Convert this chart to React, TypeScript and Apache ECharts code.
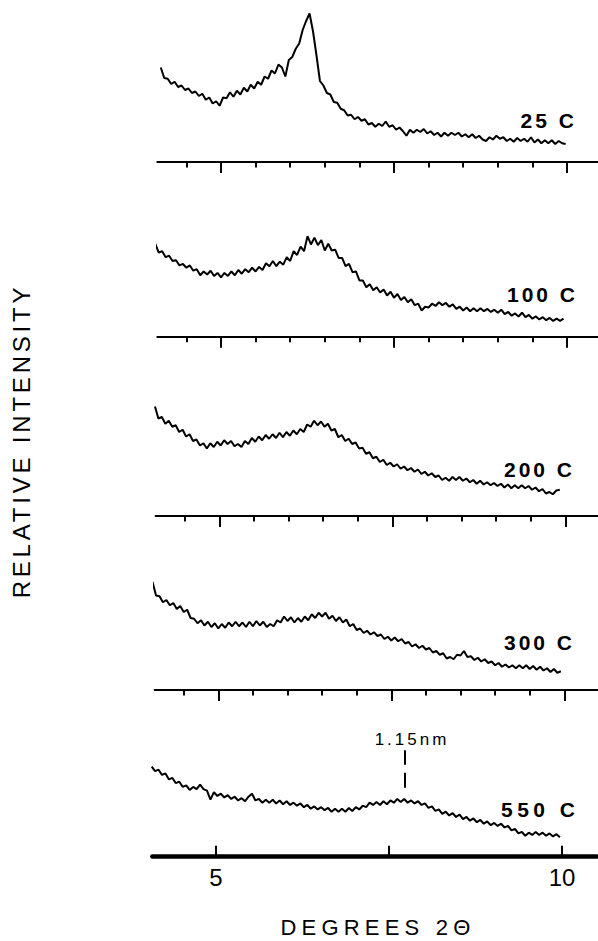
import React, { useEffect, useRef } from "react";
import * as echarts from "echarts";

// ---------- data ----------
const STEP = 0.05; // degrees 2θ between samples
const temperatures = ["25 C", "100 C", "200 C", "300 C", "550 C"];
const scanStarts = [4.13, 4.05, 4.07, 4.05, 4.07];

const i25 = [63, 56, 55.5, 52, 53.5, 50, 51, 48, 49, 46, 47, 44, 45.5, 41.5, 43, 39, 40.5, 37.5, 43, 42.5, 46.5, 43.5, 47.5, 45, 49.5, 47, 51.5, 49, 53.5, 51.5, 57, 55.5, 61, 59, 65, 63, 57, 68, 70, 75.5, 79, 88, 94, 99, 87, 71, 54, 51, 46, 45, 40, 39.5, 35.5, 34.5, 31, 31.5, 28.5, 30, 27.5, 28.5, 25, 26, 23.5, 25.5, 24, 27, 23.5, 24.5, 21.5, 23, 20.5, 17.5, 21.5, 19.5, 21.5, 20, 22, 19, 20.5, 18, 19.5, 17, 19.5, 17.5, 19.5, 18, 19.5, 17, 18.5, 16.5, 18.5, 16, 17.5, 15, 14, 16.5, 15, 17.5, 15.5, 16.5, 14, 15.5, 13.5, 16, 14, 15.5, 13.5, 16.5, 13, 15, 12.5, 14.5, 12.5, 14.5, 12, 14, 12.5, 12];

const i100 = [62, 56, 57, 53, 54, 50.5, 51, 47.5, 48.5, 46, 47.5, 44, 45, 41, 43.5, 41.5, 44, 40.5, 42.5, 39.5, 42.5, 40.5, 43.5, 41, 44.5, 42, 45, 43, 46, 43.5, 46.5, 44.5, 49, 47, 50.5, 47, 50, 48, 53, 50.5, 57, 54.5, 60, 57, 67, 61.5, 66, 61, 64.5, 57.5, 62, 57.5, 58, 52.5, 52.5, 47, 48.5, 43, 43.5, 37.5, 37.5, 33, 35, 31, 33, 29.5, 31.5, 27.5, 30, 26, 28.5, 24.5, 26.5, 23, 25, 21, 22, 17.5, 20, 19.5, 22, 20.5, 23, 21, 22.5, 20, 21.5, 18.5, 20, 17.5, 19.5, 17, 19, 17, 19, 17, 18.5, 16.5, 18, 16, 18, 15, 16.5, 14, 15.5, 13.5, 16, 13, 14.5, 12, 13.5, 11.5, 13, 11, 12.5, 10.5, 12, 10.5, 12];

const i200 = [73, 65, 66, 61.5, 63.5, 59.5, 60.5, 56, 57.5, 53, 54.5, 50, 51, 47, 48.5, 45, 48.5, 46, 49.5, 47, 50.5, 48, 50, 46.5, 48, 46, 50, 48, 52, 49.5, 53, 50.5, 54, 51.5, 54.5, 52, 55.5, 52.5, 56, 53.5, 57, 54.5, 58, 56, 61, 59.5, 63.5, 60.5, 63, 59.5, 61.5, 57, 58, 52.5, 54, 50, 51.5, 48, 49, 45, 45.5, 41.5, 42.5, 38.5, 39.5, 36, 37.5, 34, 35.5, 33, 34.5, 31.5, 33, 30.5, 32, 29.5, 31, 28, 29.5, 27, 28.5, 26, 27, 24, 25.5, 23.5, 26, 24, 26, 23.5, 25, 22.5, 24, 21.5, 23.5, 21, 22.5, 20.5, 22, 20, 21.5, 19, 21, 18.5, 20.5, 18.5, 20.5, 18.5, 20, 17.5, 19, 16.5, 18, 15, 16, 14.5, 17, 17.5];

const i300 = [72, 63, 62.5, 58.5, 60, 56.5, 58, 54, 56, 52, 53.5, 48, 47.5, 44.5, 46.5, 43, 45.5, 42, 44.5, 41, 44, 41.5, 45, 42.5, 45.5, 42.5, 45, 42, 45.5, 42.5, 46, 43, 45.5, 42, 44, 42.5, 46.5, 45, 49, 46, 48.5, 45, 48, 45.5, 49, 46.5, 50.5, 48, 51.5, 49, 51.5, 47.5, 49.5, 46, 48.5, 45, 47, 42.5, 44, 40, 41, 38, 39.5, 37, 38.5, 36, 37, 34, 35.5, 33, 35, 32.5, 34, 31, 32, 29, 30.5, 28, 29.5, 27, 28, 25, 26, 23.5, 24.5, 21, 22, 20.5, 23.5, 23, 26, 22, 22.5, 20, 21.5, 19, 20.5, 18, 19, 16.5, 18, 15.5, 17, 15, 16.5, 14.5, 16.5, 14.5, 16.5, 14, 16, 13.5, 15.5, 13, 14.5, 12, 14, 11.5, 12.5];

const i550 = [60, 57, 58, 54.5, 55.5, 51.5, 52.5, 49, 50, 46.5, 47.5, 44.5, 46.5, 45, 48, 45, 44, 38, 43, 40.5, 42, 39.5, 41, 38.5, 40, 37.5, 39, 37, 40, 42, 37.5, 38.5, 36, 38, 36, 38, 35.5, 37.5, 35, 37, 34.5, 36, 34, 35.5, 33, 34.5, 32, 33.5, 31.5, 33, 31, 32.5, 30, 32, 30, 32, 30, 32.5, 30.5, 33, 31.5, 34, 33, 36, 34.5, 36.5, 34.5, 37, 35, 37.5, 36, 38.5, 36.5, 38.5, 36, 37.5, 35.5, 37, 34.5, 35.5, 32.5, 33.5, 30.5, 31.5, 28.5, 30, 27.5, 29, 26.5, 28, 25, 26.5, 24, 25.5, 23, 24.5, 22, 23.5, 21, 22.5, 20.5, 22, 19.5, 20.5, 17.5, 18.5, 15.5, 16.5, 14, 16, 14.5, 16.5, 14.5, 16, 14, 15.5, 13.5, 15, 13];

const intensities = [i25, i100, i200, i300, i550];

const majorTicks = [5, 7.5, 10];
const minorTicks = [4.5, 5.5, 6, 6.5, 7, 8, 8.5, 9, 9.5];
const tickLabels = [5, 10];
const peakMarker = { twoTheta: 7.73, from: 46, to: 71, label: "1.15nm" };

// ---------- layout ----------
const X_MIN = 4.08;
const X_MAX = 10.5;
const PX_PER_DEG = 69.2;
const PANEL_H = 150;
const axisY = [162, 336.7, 516, 690, 856.7];
const x5 = [221, 221, 219.3, 218.3, 216];
const labelPos = [
  [520.5, 120.7],
  [507, 294],
  [504, 469],
  [504, 642],
  [501, 809.5],
];

const FONT = "Liberation Sans";

const spacing: Record<string, number> = {
  "RELATIVE INTENSITY": 3.8,
  "DEGREES 2Θ": 5.2,
  "25 C": 3,
  "100 C": 3,
  "200 C": 3,
  "300 C": 3,
  "550 C": 4.5,
  "1.15nm": 3,
};

export default function App() {
  const ref = useRef<HTMLDivElement>(null);

  useEffect(() => {
    const el = ref.current;
    if (!el) return;
    const chart = echarts.init(el, null, { renderer: "svg" });

    const grids: any[] = [];
    const xAxes: any[] = [];
    const yAxes: any[] = [];
    const series: any[] = [];
    const width = (X_MAX - X_MIN) * PX_PER_DEG;

    temperatures.forEach((t, i) => {
      const last = i === temperatures.length - 1;
      grids.push({
        left: x5[i] - (5 - X_MIN) * PX_PER_DEG,
        top: axisY[i] - PANEL_H,
        width,
        height: PANEL_H,
        outerBoundsMode: "none",
        containLabel: false,
      });
      const majorIndex = xAxes.length;
      xAxes.push({
        type: "value",
        gridIndex: i,
        min: X_MIN,
        max: X_MAX,
        position: "bottom",
        splitLine: { show: false },
        axisLine: { show: true, lineStyle: { color: "#000", width: last ? 4.5 : 2 } },
        axisTick: {
          show: true,
          customValues: majorTicks,
          inside: last,
          length: 11,
          lineStyle: { color: "#000", width: 2 },
        },
        axisLabel: last
          ? {
              show: true,
              customValues: tickLabels,
              color: "#000",
              fontSize: 24,
              fontFamily: FONT,
              margin: 9,
            }
          : { show: false },
      });
      if (!last) {
        xAxes.push({
          type: "value",
          gridIndex: i,
          min: X_MIN,
          max: X_MAX,
          position: "bottom",
          splitLine: { show: false },
          axisLine: { show: false },
          axisTick: {
            show: true,
            customValues: minorTicks,
            length: 5.5,
            lineStyle: { color: "#000", width: 2 },
          },
          axisLabel: { show: false },
        });
      }
      yAxes.push({ type: "value", gridIndex: i, min: 0, max: 100, show: false });

      const vals = intensities[i];
      const s: any = {
        type: "line",
        name: t,
        xAxisIndex: majorIndex,
        yAxisIndex: i,
        data: vals.map((v, k) => [scanStarts[i] + k * STEP, v]),
        symbol: "none",
        showSymbol: false,
        clip: false,
        silent: true,
        lineStyle: { color: "#000", width: 2 },
      };
      if (last) {
        s.markLine = {
          silent: true,
          symbol: ["none", "none"],
          label: { show: false },
          lineStyle: { color: "#000", width: 2, type: [15, 8] },
          data: [
            [
              { coord: [peakMarker.twoTheta, peakMarker.from] },
              { coord: [peakMarker.twoTheta, peakMarker.to] },
            ],
          ],
        };
      }
      series.push(s);
    });

    const graphics: any[] = temperatures.map((t, i) => ({
      type: "text",
      x: labelPos[i][0],
      y: labelPos[i][1],
      silent: true,
      style: {
        text: t,
        fill: "#000",
        fontSize: 21,
        fontWeight: "bold",
        fontFamily: FONT,
        align: "left",
        verticalAlign: "middle",
        textAlign: "left",
        textVerticalAlign: "middle",
      },
    }));
    graphics.push(
      {
        type: "text",
        x: 412,
        y: 739,
        silent: true,
        style: {
          text: peakMarker.label,
          fill: "#000",
          fontSize: 17,
          fontFamily: FONT,
          align: "center",
          verticalAlign: "middle",
          textAlign: "center",
          textVerticalAlign: "middle",
        },
      },
      {
        type: "text",
        x: 378,
        y: 927,
        silent: true,
        style: {
          text: "DEGREES 2Θ",
          fill: "#000",
          fontSize: 22,
          fontFamily: FONT,
          align: "center",
          verticalAlign: "middle",
          textAlign: "center",
          textVerticalAlign: "middle",
        },
      },
      {
        type: "text",
        x: 21,
        y: 441,
        rotation: Math.PI / 2,
        silent: true,
        style: {
          text: "RELATIVE INTENSITY",
          fill: "#000",
          fontSize: 24,
          fontFamily: FONT,
          align: "center",
          verticalAlign: "middle",
          textAlign: "center",
          textVerticalAlign: "middle",
        },
      }
    );

    chart.setOption({
      animation: false,
      backgroundColor: "#fff",
      grid: grids,
      xAxis: xAxes,
      yAxis: yAxes,
      series,
      graphic: { elements: graphics },
    });

    const applySpacing = () => {
      el.querySelectorAll("text").forEach((node) => {
        const s = spacing[(node.textContent || "").trim()];
        if (s) node.setAttribute("letter-spacing", String(s));
      });
    };
    applySpacing();
    chart.on("finished", applySpacing);

    return () => {
      chart.dispose();
    };
  }, []);

  return (
    <div
      ref={ref}
      style={{ position: "fixed", left: 0, top: 0, width: 598, height: 941, background: "#fff" }}
    />
  );
}
